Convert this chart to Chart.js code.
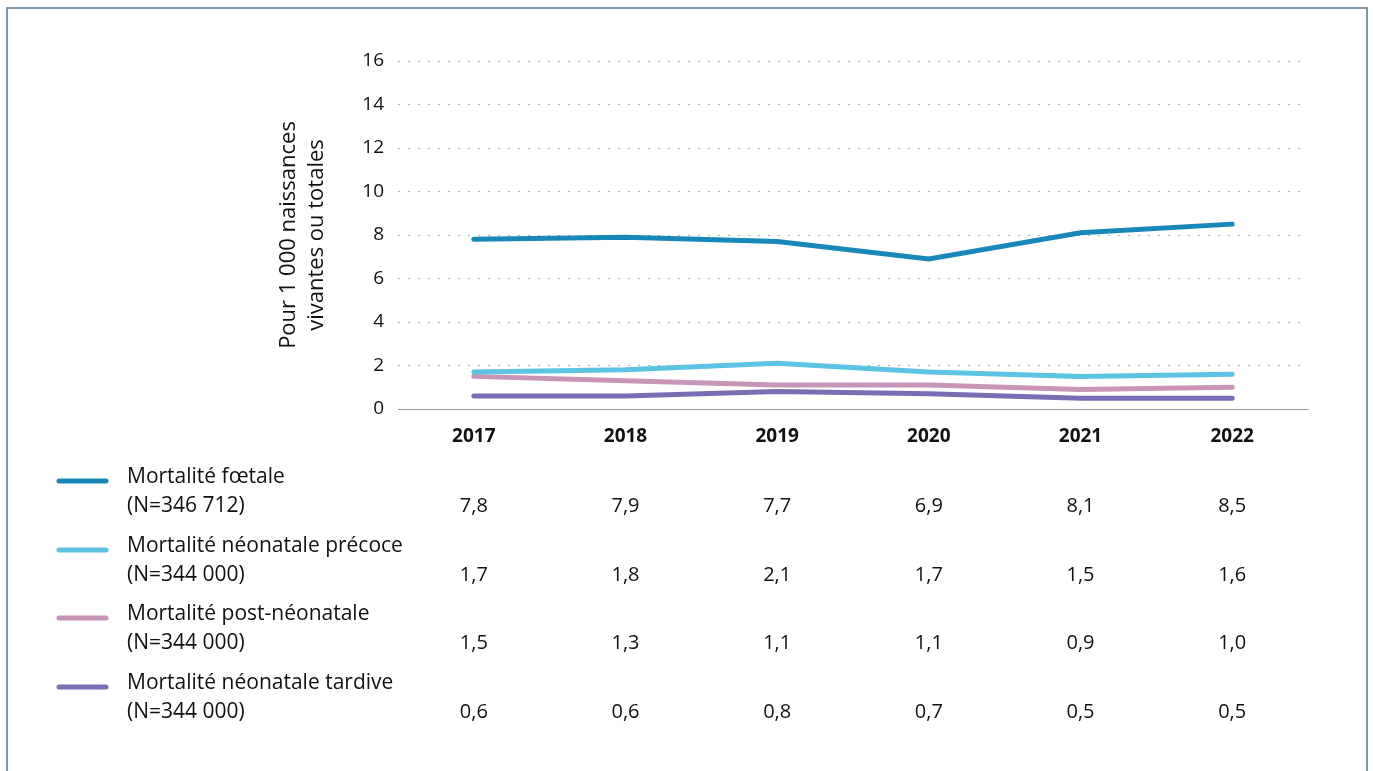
<!DOCTYPE html>
<html>
<head>
<meta charset="utf-8">
<script src="https://cdn.jsdelivr.net/npm/chart.js@4.4.1/dist/chart.umd.min.js"></script>
<style>
  html, body { margin: 0; padding: 0; background: #fff; }
  #wrap { position: relative; width: 1373px; height: 771px; }
  #frame { position: absolute; left: 6px; top: 7px; width: 1362px; height: 780px;
           border: 2px solid #8096ab; border-bottom: none; box-sizing: border-box; }
  canvas { position: absolute; left: 0; top: 0; }
</style>
</head>
<body>
<div id="wrap">
  <div id="frame"></div>
  <canvas id="chartLine" width="1373" height="771"></canvas>
</div>
<script>
// categories
const years = ["2017", "2018", "2019", "2020", "2021", "2022"];

// series values (pour 1 000 naissances)
const foetale = [7.8, 7.9, 7.7, 6.9, 8.1, 8.5];
const neonatalePrecoce = [1.7, 1.8, 2.1, 1.7, 1.5, 1.6];
const postNeonatale = [1.5, 1.3, 1.1, 1.1, 0.9, 1.0];
const neonataleTardive = [0.6, 0.6, 0.8, 0.7, 0.5, 0.5];

// legend texts
const seriesNames = ["Mortalité fœtale", "Mortalité néonatale précoce", "Mortalité post-néonatale", "Mortalité néonatale tardive"];
const seriesN = ["(N=346 712)", "(N=344 000)", "(N=344 000)", "(N=344 000)"];
const seriesColors = ["#1888b8", "#5cc3e2", "#c894b8", "#7a6db3"];

const FONT = "'Open Sans', 'Noto Sans', sans-serif";

// < !-- data table under the chart -- >
const tablePlugin = {
  id: "dataTable",
  afterDraw(chart) {
    const ctx = chart.ctx;
    const xScale = chart.scales.x;
    const rowTops = [477, 546, 614, 683];
    ctx.save();
    chart.data.datasets.forEach((ds, i) => {
      const y1 = rowTops[i];
      const y2 = y1 + 29;
      // marker
      ctx.strokeStyle = ds.borderColor;
      ctx.lineWidth = 5;
      ctx.lineCap = "round";
      ctx.beginPath();
      ctx.moveTo(59, y1 + 4);
      ctx.lineTo(106, y1 + 4);
      ctx.stroke();
      // labels
      ctx.fillStyle = "#111";
      ctx.font = "21px " + FONT;
      ctx.textBaseline = "middle";
      ctx.textAlign = "left";
      ctx.fillText(seriesNames[i], 127, y1);
      ctx.fillText(seriesN[i], 127, y2);
      // values
      ctx.font = "20px " + FONT;
      ctx.textAlign = "center";
      ds.data.forEach((v, j) => {
        const x = xScale.getPixelForValue(j);
        ctx.fillText(v.toFixed(1).replace(".", ","), x, y2);
      });
    });
    ctx.restore();
  }
};

const allSeries = [foetale, neonatalePrecoce, postNeonatale, neonataleTardive];

const dataLineChart = {
  labels: years,
  datasets: allSeries.map((values, i) => ({
    label: seriesNames[i],
    data: values,
    borderColor: seriesColors[i],
    backgroundColor: seriesColors[i],
    borderWidth: 5,
    borderCapStyle: "round",
    pointRadius: 0,
    tension: 0,
  })),
};

const configLineChart = {
  type: "line",
  data: dataLineChart,
  options: {
    responsive: false,
    animation: false,
    layout: { padding: { left: 271, right: 65, top: 61, bottom: 0 } },
    plugins: { legend: { display: false }, tooltip: { enabled: false } },
    scales: {
      x: {
        offset: true,
        grid: { display: false, drawTicks: false },
        border: { display: true, color: "#9a9a9a", width: 1 },
        ticks: { color: "#111", padding: 16, font: { family: FONT, size: 19, weight: "bold" } },
        afterFit(scale) { scale.height = 362; },
      },
      y: {
        min: 0,
        max: 16,
        grid: {
          drawTicks: false,
          color: ctx => (ctx.tick && ctx.tick.value === 0 ? "#9a9a9a" : "#b0b0b0"),
          lineWidth: 1,
        },
        border: {
          display: false,
          dash: ctx => (ctx.tick && ctx.tick.value === 0 ? [] : [2, 8]),
        },
        ticks: { stepSize: 2, color: "#111", padding: 14, font: { family: FONT, size: 19 } },
        title: {
          display: true,
          text: ["Pour 1 000 naissances", "vivantes ou totales"],
          color: "#111",
          padding: { top: 4, bottom: 4 },
          font: { family: FONT, size: 22, lineHeight: 1.25 },
        },
        afterFit(scale) { scale.width = 127; },
      },
    },
  },
  plugins: [tablePlugin],
};

var chartLine = new Chart(document.getElementById("chartLine"), configLineChart);
</script>
</body>
</html>
